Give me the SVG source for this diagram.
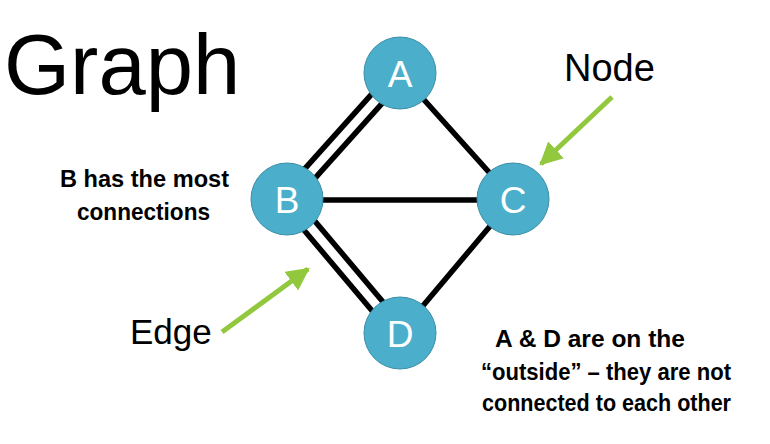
<svg xmlns="http://www.w3.org/2000/svg" width="770" height="444" viewBox="0 0 770 444">
<defs>
<style>
.edge{stroke:#000;stroke-width:5.5;fill:none}
.node circle{fill:#4BAFCC;stroke:#3B8DA6;stroke-width:1}
.node text{font-family:"Liberation Sans",Arial,sans-serif;font-size:37px;fill:#fff;text-anchor:middle}
.lbl{font-family:"Liberation Sans",Arial,sans-serif;fill:#000}
.bold{font-family:"Liberation Sans",Arial,sans-serif;font-weight:bold;font-size:23.5px;fill:#000}
.ptr{stroke:#92C83E;stroke-width:5;fill:none}
</style>
<marker id="ah" viewBox="0 0 10 10" refX="9" refY="5" markerWidth="4.6" markerHeight="4.6" markerUnits="strokeWidth" orient="auto">
<path d="M0,0 L10,5 L0,10 Z" fill="#92C83E"/>
</marker>
</defs>
<rect width="770" height="444" fill="#fff"/>
<g id="connectors">
<line class="edge" x1="281.8" y1="194.3" x2="394.8" y2="68.3"/>
<line class="edge" x1="292.2" y1="203.7" x2="405.2" y2="77.7"/>
<line class="edge" x1="400" y1="73" x2="513" y2="199"/>
<line class="edge" x1="287" y1="200" x2="513" y2="200"/>
<line class="edge" x1="292.4" y1="194.5" x2="405.4" y2="328.5"/>
<line class="edge" x1="281.6" y1="203.5" x2="394.6" y2="337.5"/>
<line class="edge" x1="513" y1="199" x2="400" y2="333"/>
</g>
<g id="node-A" class="node"><circle cx="400" cy="73" r="36"/><text x="400" y="86.5">A</text></g>
<g id="node-B" class="node"><circle cx="287" cy="199" r="36"/><text x="287" y="212.5">B</text></g>
<g id="node-C" class="node"><circle cx="513" cy="199" r="36"/><text x="513" y="212.5">C</text></g>
<g id="node-D" class="node"><circle cx="400" cy="333" r="36"/><text x="400" y="346.5">D</text></g>
<g id="pointers">
<line class="ptr" x1="612" y1="97" x2="541" y2="164" marker-end="url(#ah)"/>
<line class="ptr" x1="222" y1="332" x2="308" y2="269" marker-end="url(#ah)"/>
</g>
<text class="lbl" x="4" y="94" font-size="85">Graph</text>
<text class="lbl" x="564" y="81" font-size="38">Node</text>
<text class="lbl" x="130" y="344" font-size="35">Edge</text>
<text class="bold" x="60" y="187" textLength="169" lengthAdjust="spacingAndGlyphs">B has the most</text>
<text class="bold" x="77" y="220" textLength="133" lengthAdjust="spacingAndGlyphs">connections</text>
<text class="bold" x="495" y="347" textLength="190" lengthAdjust="spacingAndGlyphs">A &amp; D are on the</text>
<text class="bold" x="481" y="380" textLength="250" lengthAdjust="spacingAndGlyphs">“outside” – they are not</text>
<text class="bold" x="482" y="411" textLength="249" lengthAdjust="spacingAndGlyphs">connected to each other</text>
</svg>
